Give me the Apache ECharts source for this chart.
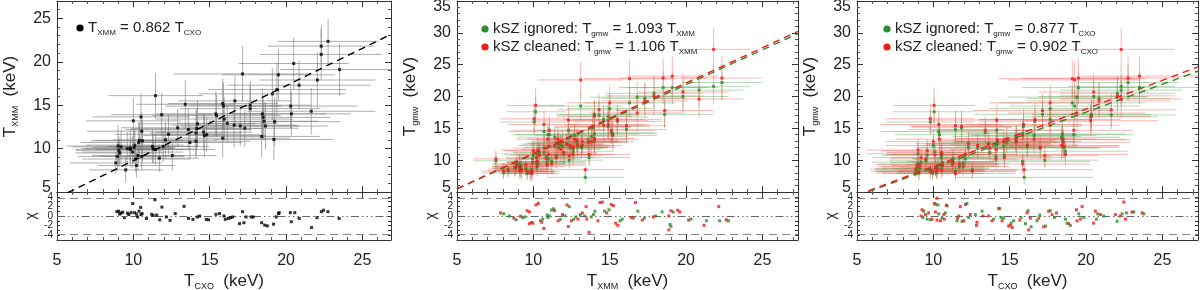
<!DOCTYPE html>
<html><head><meta charset="utf-8">
<script src="https://cdn.jsdelivr.net/npm/echarts@6/dist/echarts.min.js"></script>
<style>html,body{margin:0;padding:0;background:#fff}#c{width:1200px;height:290px}</style>
</head><body><div id="c"></div>
<script>
// ---------------- DATA (per cluster) ----------------
const tCXO = [8.85,8.95,9.0,9.05,9.2,9.5,9.6,9.8,9.8,9.95, 10.0,10.05,10.15,10.2,10.3,10.35,10.4,10.5,10.55,10.55,
  10.6,11.25,11.3,11.45,11.45,11.7,11.85,11.95,12.3,12.55, 12.9,13.4,13.6,13.7,14.1,14.1,14.15,14.2,14.6,14.65,
  14.8,15.4,15.45,15.85,15.85,15.9,15.95,16.15,16.6,16.65, 17.0,17.15,17.3,17.65,17.65,18.4,18.45,18.5,18.55,18.65,
  19.1,19.2,19.25,19.4,19.5,20.3,20.35,20.5,20.85,21.65, 22.05,22.3,22.3,22.75,23.5, 9.1,10.1,12.1];
const eCXO = [3.0,2.6,3.4,2.8,3.2,2.4,3.0,3.6,2.9,3.3, 3.1,2.7,3.5,2.5,3.0,3.8,2.9,3.2,3.6,2.8,
  3.4,3.0,2.7,3.9,3.1,2.6,3.3,3.0,3.5,2.9, 3.7,3.2,4.1,3.4,3.0,3.6,4.3,3.8,3.2,4.0,
  3.5,3.9,4.2,3.6,4.4,3.8,4.5,3.3,4.1,3.7, 3.9,4.5,3.5,4.0,4.6,3.8,4.2,4.4,3.6,4.1,
  4.8,3.9,4.3,4.5,3.7,4.4,3.9,3.6,4.7,4.2, 3.8,3.5,4.0,3.3,3.9, 2.9,3.2,3.4];
const tXMM = [8.35,9.1,10.3,9.8,10.2,7.55,10.0,9.9,10.05,9.6, 13.2,10.15,8.8,8.05,9.2,10.7,10.95,13.65,12.0,9.1,
  10.9,10.25,9.95,9.9,16.1,8.9,13.9,10.25,11.65,9.2, 12.4,15.1,12.2,10.7,11.8,10.85,12.3,12.85,11.9,11.5,
  11.6,14.0,13.8,15.2,11.2,14.9,13.4,12.9,12.7,15.5, 12.6,18.6,12.35,15.0,14.6,11.4,14.0,13.6,13.15,12.6,
  16.3,11.05,13.1,16.8,18.5,14.9,14.0,19.8,17.3,14.3, 17.9,21.8,20.85,22.35,19.1, 9.5,10.4,11.0];
const eXMM = [1.3,1.7,2.4,1.6,2.0,1.5,1.9,1.4,2.2,1.8, 2.6,1.9,1.5,1.4,1.8,2.3,2.1,2.7,2.2,1.6,
  2.4,1.9,1.7,1.8,2.6,1.6,2.5,1.8,2.3,1.7, 2.2,2.8,2.4,2.0,2.6,1.9,2.3,2.7,2.1,2.5,
  2.0,2.6,2.4,2.9,2.2,2.7,2.5,2.1,2.6,2.9, 2.3,3.2,2.2,2.8,2.6,2.4,2.9,2.5,2.2,2.7,
  3.0,2.4,2.8,3.1,2.9,2.6,2.5,3.0,2.8,2.7, 3.2,2.4,2.9,2.6,3.0, 1.6,1.9,2.1];
const tGmwIgnored = [8.3,9.4,11.0,8.2,9.7,9.9,10.8,8.5,16.0,7.9, 12.3,17.6,8.7,8.0,9.1,14.5,14.0,10.4,10.9,8.8,
  9.6,9.3,10.2,8.2,14.8,9.0,15.1,9.5,12.0,8.5, 11.9,14.3,12.6,11.2,12.4,10.6,14.7,12.8,12.2,10.8,
  12.7,12.9,13.7,14.2,9.8,15.3,7.3,12.1,13.9,16.1, 11.9,17.2,10.0,18.1,16.4,13.6,14.1,13.2,12.0,11.4,
  19.0,14.0,18.5,19.9,21.4,16.8,17.2,20.0,19.7,17.1, 20.5,21.6,21.0,22.2,21.4, 8.7,11.3,10.2];
const eGmwIgnored = [1.0,1.3,1.6,1.1,1.4,1.2,1.5,1.1,2.0,1.0, 1.5,2.3,1.2,1.0,1.3,1.9,1.8,1.4,1.5,1.1,
  1.3,1.2,1.4,1.0,2.0,1.2,2.1,1.3,1.6,1.1, 1.5,1.8,1.6,1.4,1.7,1.3,1.9,1.6,1.5,1.4,
  1.6,1.7,1.8,1.9,1.3,2.0,1.1,1.6,1.8,2.1, 1.5,2.2,1.4,2.3,2.1,1.8,1.9,1.7,1.6,1.5,
  2.4,1.9,2.3,2.4,2.6,2.1,2.2,2.5,2.4,2.2, 2.6,2.7,2.5,2.8,2.6, 1.1,1.4,1.3];
const tGmwCleaned = [8.6,9.0,11.6,8.0,10.4,10.2,11.5,8.2,16.5,8.3, 12.9,18.6,8.9,8.3,8.6,15.6,13.3,10.9,11.2,8.4,
  9.2,9.8,9.6,7.9,15.4,9.4,15.3,9.0,12.6,8.3, 12.3,14.7,12.5,11.9,11.7,10.2,16.3,13.1,12.9,10.4,
  13.3,13.4,12.9,13.9,9.4,15.6,8.5,12.4,13.3,16.4, 12.0,17.8,10.7,19.0,15.5,12.3,13.3,12.8,12.2,10.9,
  22.8,14.7,22.6,17.4,22.9,16.2,16.9,20.7,19.3,17.9, 20.1,27.4,19.6,22.9,23.2, 9.3,10.8,10.9];
const eGmwCleaned = [1.2,1.5,1.9,1.3,1.7,1.4,1.8,1.3,2.4,1.2, 1.8,2.8,1.4,1.2,1.5,2.3,2.1,1.7,1.8,1.3,
  1.6,1.4,1.7,1.2,2.4,1.4,2.5,1.5,1.9,1.3, 1.8,2.2,1.9,1.7,2.0,1.6,2.3,1.9,1.8,1.7,
  1.9,2.0,2.2,2.3,1.6,2.4,1.4,1.9,2.2,2.5, 1.8,2.6,1.7,2.8,2.5,2.2,2.3,2.0,1.9,1.8,
  2.9,2.3,2.8,2.9,3.1,2.5,2.6,3.0,2.9,2.6, 3.1,3.3,3.0,3.4,3.1, 1.3,1.7,1.6];

// fit slopes (from the legends)
const slopeXMMvsCXO = 0.862;
const slopeGmwXMMIgnored = 1.093, slopeGmwXMMCleaned = 1.106;
const slopeGmwCXOIgnored = 0.877, slopeGmwCXOCleaned = 0.902;

// residuals chi, [T, chi]
const res1 = [[8.92,0.9],[9.03,1.0],[9.1,0.4],[9.2,0.6],[9.3,0.8],[9.41,-0.35],[9.61,0.6],[9.7,0.3],[9.85,0.7],[9.96,2.6],
  [10.08,0.7],[10.2,0.4],[10.28,-0.2],[10.37,1.0],[10.48,1.8],[10.5,0.3],[10.57,0.5],[10.86,-0.5],[11.2,0.35],[11.3,0.1],
  [11.41,3.4],[11.53,0.2],[11.73,-0.8],[11.87,1.85],[12.16,-0.2],[12.4,-0.9],[12.74,0.5],[13.32,2.0],[13.61,-0.5],[13.9,-0.7],
  [14.19,-0.2],[14.34,0.0],[14.77,-0.7],[14.92,-0.8],[15.41,0.35],[15.64,0.5],[15.93,0.0],[16.02,-0.7],[16.22,-0.5],[16.37,-0.35],
  [16.51,-0.2],[16.95,-1.6],[17.15,0.9],[17.24,-1.4],[17.38,-0.2],[17.73,-0.2],[17.85,-0.2],[18.4,-1.4],[18.6,-1.9],[18.77,-2.05],
  [19.18,-1.7],[19.35,-0.2],[19.5,0.5],[19.55,0.7],[20.28,0.7],[20.34,-1.2],[20.57,0.7],[20.86,-0.5],[21.67,-2.4],[22.02,-0.35],
  [22.31,0.9],[22.45,1.2],[22.74,0.9],[23.47,-0.5]];
const res2Ignored = [[8.05,0.45],[8.43,0.0],[8.87,-0.8],[9.3,-0.3],[9.45,-0.2],[9.88,-1.35],[10.46,-1.0],[10.61,-0.65],[10.9,0.2],[10.95,-0.3],
  [11.04,0.0],[11.19,1.25],[11.33,1.5],[11.77,-0.7],[12.06,0.05],[12.35,1.95],[12.64,-0.7],[12.78,-0.2],[13.07,0.3],[13.36,0.0],
  [13.79,-0.2],[13.94,0.3],[14.03,1.0],[14.66,1.0],[14.95,1.3],[15.68,-1.0],[15.82,-0.65],[16.55,-0.45],[16.84,1.0],[17.27,-0.45],
  [18.0,0.0],[18.43,0.85],[19.16,0.85],[18.95,-1.75],[19.01,-2.15],[20.32,-0.65],[21.33,-1.0],[22.2,-1.0],[22.78,-1.0]];
const res2Cleaned = [[7.85,0.65],[8.72,-0.45],[9.16,-0.05],[9.59,1.1],[9.74,-1.6],[9.97,-1.5],[9.74,0.85],[10.17,2.3],[10.32,2.6],[10.55,-1.3],
  [10.69,-2.6],[11.39,1.1],[11.62,-1.0],[11.91,0.3],[12.2,2.3],[12.29,-2.2],[12.49,-1.0],[12.92,-0.65],[13.21,0.65],[13.45,1.95],
  [13.5,-0.65],[13.65,-3.4],[14.23,-1.0],[14.37,2.8],[14.52,2.9],[14.81,0.65],[15.1,2.4],[15.24,2.15],[15.39,-1.5],[15.53,-1.95],
  [16.4,-0.3],[16.69,2.8],[17.13,-0.85],[17.85,-0.2],[18.87,0.0],[19.01,1.1],[19.45,1.2],[19.59,0.85],[18.87,-2.9],[20.17,-0.85],
  [21.18,-1.95],[22.14,1.95],[22.63,-0.8]];
const res3Ignored = [[9.37,1.0],[9.32,-0.3],[9.59,-0.65],[9.8,-0.8],[10.15,2.45],[10.3,2.3],[10.35,0.45],[10.57,-0.45],[10.79,0.65],[10.9,2.1],
  [11.55,-1.0],[11.66,0.0],[11.88,-1.1],[12.2,2.6],[12.31,-0.3],[12.75,0.3],[13.19,1.0],[13.95,-0.65],[14.34,1.5],[14.43,-0.3],
  [14.6,-0.45],[15.09,-1.5],[15.26,-1.0],[15.74,-0.3],[16.03,-1.6],[16.2,1.1],[16.4,-2.25],[16.79,-1.0],[16.97,0.2],[17.34,-2.1],
  [17.66,1.1],[17.93,-0.3],[18.65,-0.65],[18.76,-1.5],[18.97,-1.95],[19.52,0.45],[19.85,-0.3],[20.68,-0.65],[20.76,0.45],[21.16,0.0],
  [22.03,-1.1],[22.36,0.45],[22.64,0.65],[23.12,0.85],[23.78,0.45]];
const res3Cleaned = [[9.19,0.0],[9.26,1.3],[9.48,0.3],[9.69,0.65],[9.91,-0.65],[10.07,2.6],[10.24,3.7],[10.13,0.85],[10.24,-0.85],[10.46,-1.0],
  [10.68,0.3],[10.85,2.25],[10.72,-0.65],[11.59,-0.45],[11.77,1.95],[11.99,-1.0],[12.1,2.4],[12.42,0.3],[12.86,-1.3],[12.82,-1.95],
  [13.25,0.0],[13.62,0.0],[13.84,-1.0],[14.28,1.6],[14.5,-1.0],[14.93,-2.1],[15.04,-1.95],[15.17,-2.4],[15.66,-0.85],[16.14,0.65],
  [16.24,-2.9],[16.35,-0.45],[16.9,-0.45],[17.23,-2.25],[17.55,1.0],[17.77,0.3],[18.06,0.65],[18.86,-1.6],[19.37,1.3],[19.41,-1.0],
  [19.63,-0.65],[19.74,1.95],[20.5,-1.5],[20.61,1.0],[20.94,0.3],[21.92,0.3],[22.25,0.0],[22.47,2.9],[22.58,-0.65],[23.01,0.8],[23.67,0.65]];
const chiBand = 3.7;
const xTickStep = 5, yTickStep = 5;

// ---------------- STYLE / LAYOUT ----------------
const F = '"Liberation Sans", Arial, sans-serif';
const INK = '#222';
const GREEN = '#2c8c2c', RED = '#f21c1c';
const GREEN_BAR = 'rgba(70,160,70,0.4)', RED_BAR = 'rgba(255,70,70,0.4)';
const panels = [
  {left: 57, width: 334, xmax: 26.87, ymax: 27, xsub: 'CXO', ysub: 'XMM'},
  {left: 457, width: 341, xmax: 27.33, ymax: 35, xsub: 'XMM', ysub: 'gmw'},
  {left: 857, width: 341, xmax: 27.33, ymax: 35, xsub: 'CXO', ysub: 'gmw'}
];
const MAIN_TOP = 1, MAIN_H = 191, RES_TOP = 192, RES_H = 48;

const titleRich = {
  t: {fontSize: 17, fontFamily: F, color: INK, lineHeight: 20},
  s: {fontSize: 9, fontFamily: F, color: INK, lineHeight: 9, verticalAlign: 'bottom'}
};
const legRich = {
  t: {fontSize: 15, fontFamily: F, color: INK, lineHeight: 18},
  s: {fontSize: 8, fontFamily: F, color: INK, lineHeight: 8, verticalAlign: 'bottom'}
};
const tickRich = {
  lo: {fontSize: 16, fontFamily: F, color: INK, padding: [0, 0, 8, 0]},
  hi: {fontSize: 16, fontFamily: F, color: INK, padding: [12, 0, 0, 0]}
};
const axisColor = '#333';

function xAxisDef(grid, pos, xmax, labels, name) {
  return {
    type: 'value', gridIndex: grid, position: pos, min: 5, max: xmax, interval: xTickStep,
    axisLine: {show: true, onZero: false, lineStyle: {color: axisColor, width: 1}},
    axisTick: {show: true, inside: true, length: 6, lineStyle: {color: axisColor}},
    minorTick: {show: true, splitNumber: 5, length: 3, lineStyle: {color: '#555'}},
    splitLine: {show: false}, minorSplitLine: {show: false},
    axisLabel: {show: labels, showMaxLabel: false, margin: 13, fontSize: 16, fontFamily: F, color: INK},
    name: name || '', nameLocation: 'middle', nameGap: 31,
    nameTextStyle: {rich: titleRich}
  };
}
function yMainDef(grid, pos, ymax, labels, name) {
  return {
    type: 'value', gridIndex: grid, position: pos, min: 5, max: ymax, interval: yTickStep,
    axisLine: {show: true, onZero: false, lineStyle: {color: axisColor, width: 1}},
    axisTick: {show: true, inside: true, length: 6, lineStyle: {color: axisColor}},
    minorTick: {show: true, splitNumber: 5, length: 3, lineStyle: {color: '#555'}},
    splitLine: {show: false}, minorSplitLine: {show: false},
    axisLabel: {show: labels, showMaxLabel: ymax % yTickStep === 0, margin: 6, fontSize: 16, fontFamily: F, color: INK,
      formatter: v => v === 5 ? '{lo|5}' : (v === ymax ? '{hi|' + v + '}' : String(v)), rich: tickRich},
    name: name || '', nameLocation: 'middle', nameGap: 37, nameRotate: 90,
    nameTextStyle: {rich: titleRich}
  };
}
function yResDef(grid, pos, labels) {
  return {
    type: 'value', gridIndex: grid, position: pos, min: -5, max: 5, interval: 1,
    axisLine: {show: true, onZero: false, lineStyle: {color: axisColor, width: 1}},
    axisTick: {show: true, inside: true, length: 3, lineStyle: {color: axisColor}},
    splitLine: {show: false},
    axisLabel: {show: labels, margin: 4, fontSize: 10, fontFamily: F, color: INK,
      formatter: v => (Math.abs(v) < 5 && v % 2 === 0) ? String(v) : ''},
    name: labels ? 'χ' : '', nameLocation: 'middle', nameGap: 19, nameRotate: 90,
    nameTextStyle: {fontSize: 14, fontFamily: F, color: INK}
  };
}
function sub(s) { return '{t|T}{s|' + s + '}{t|  (keV)}'; }

function errBars(xi, yi, data, color) {
  return {
    type: 'custom', xAxisIndex: xi, yAxisIndex: yi, data: data, clip: true, silent: true, z: 1,
    encode: {x: 0, y: 1},
    renderItem: function (params, api) {
      const x = api.value(0), y = api.value(1), ex = api.value(2), ey = api.value(3);
      const a = api.coord([x - ex, y]), b = api.coord([x + ex, y]);
      const c = api.coord([x, y - ey]), d = api.coord([x, y + ey]);
      return {type: 'group', children: [
        {type: 'line', shape: {x1: a[0], y1: a[1], x2: b[0], y2: b[1]}, style: {stroke: color, lineWidth: 1}},
        {type: 'line', shape: {x1: c[0], y1: c[1], x2: d[0], y2: d[1]}, style: {stroke: color, lineWidth: 1}}
      ]};
    }
  };
}
function pts(xi, yi, data, color, size) {
  return {type: 'scatter', xAxisIndex: xi, yAxisIndex: yi, data: data, symbol: 'rect', symbolSize: size || 3,
    itemStyle: {color: color}, silent: true, z: 5};
}
function fitLine(xi, yi, slope, xmax, color) {
  return {type: 'line', xAxisIndex: xi, yAxisIndex: yi, data: [[5, 5 * slope], [xmax, xmax * slope]],
    symbol: 'none', silent: true, z: 4, clip: true,
    lineStyle: {color: color, width: 1.4, type: [7, 5]}};
}
function bandLines() {
  return {silent: true, symbol: ['none', 'none'], label: {show: false}, animation: false,
    emphasis: {disabled: true},
    data: [
      {yAxis: 0, lineStyle: {color: '#666', width: 1, type: [8, 3, 1.5, 3, 1.5, 3, 1.5, 3]}},
      {yAxis: chiBand, lineStyle: {color: '#888', width: 1, type: [8, 5]}},
      {yAxis: -chiBand, lineStyle: {color: '#888', width: 1, type: [8, 5]}}
    ]};
}

const grids = [], xAxes = [], yAxes = [], series = [];
panels.forEach((p, i) => {
  grids.push({left: p.left, top: MAIN_TOP, width: p.width, height: MAIN_H, containLabel: false, outerBoundsMode: 'none'});
  grids.push({left: p.left, top: RES_TOP, width: p.width, height: RES_H, containLabel: false, outerBoundsMode: 'none'});
  const gm = 2 * i, gr = 2 * i + 1;
  xAxes.push(xAxisDef(gm, 'bottom', p.xmax, false));
  xAxes.push(xAxisDef(gm, 'top', p.xmax, false));
  xAxes.push(xAxisDef(gr, 'bottom', p.xmax, true, sub(p.xsub)));
  xAxes.push(xAxisDef(gr, 'top', p.xmax, false));
  yAxes.push(yMainDef(gm, 'left', p.ymax, true, sub(p.ysub)));
  yAxes.push(yMainDef(gm, 'right', p.ymax, false));
  yAxes.push(yResDef(gr, 'left', true));
  yAxes.push(yResDef(gr, 'right', false));
});

const N = tCXO.length;
const idx = Array.from({length: N}, (_, k) => k);
// Panel 1: T_XMM vs T_CXO
series.push(errBars(0, 0, idx.map(k => [tCXO[k], tXMM[k], eCXO[k], eXMM[k]]), 'rgba(120,120,120,0.6)'));
series.push(fitLine(0, 0, slopeXMMvsCXO, panels[0].xmax, '#000'));
series.push(pts(0, 0, idx.map(k => [tCXO[k], tXMM[k]]), '#000'));
series.push(Object.assign(pts(2, 2, res1, '#000'), {markLine: bandLines()}));
// Panel 2: T_gmw vs T_XMM
series.push(errBars(4, 4, idx.map(k => [tXMM[k], tGmwIgnored[k], eXMM[k], eGmwIgnored[k]]), GREEN_BAR));
series.push(errBars(4, 4, idx.map(k => [tXMM[k], tGmwCleaned[k], eXMM[k], eGmwCleaned[k]]), RED_BAR));
series.push(fitLine(4, 4, slopeGmwXMMIgnored, panels[1].xmax, GREEN));
series.push(fitLine(4, 4, slopeGmwXMMCleaned, panels[1].xmax, RED));
series.push(pts(4, 4, idx.map(k => [tXMM[k], tGmwIgnored[k]]), GREEN));
series.push(pts(4, 4, idx.map(k => [tXMM[k], tGmwCleaned[k]]), RED));
series.push(Object.assign(pts(6, 6, res2Ignored, GREEN), {markLine: bandLines()}));
series.push(pts(6, 6, res2Cleaned, RED));
// Panel 3: T_gmw vs T_CXO
series.push(errBars(8, 8, idx.map(k => [tCXO[k], tGmwIgnored[k], eCXO[k], eGmwIgnored[k]]), GREEN_BAR));
series.push(errBars(8, 8, idx.map(k => [tCXO[k], tGmwCleaned[k], eCXO[k], eGmwCleaned[k]]), RED_BAR));
series.push(fitLine(8, 8, slopeGmwCXOIgnored, panels[2].xmax, GREEN));
series.push(fitLine(8, 8, slopeGmwCXOCleaned, panels[2].xmax, RED));
series.push(pts(8, 8, idx.map(k => [tCXO[k], tGmwIgnored[k]]), GREEN));
series.push(pts(8, 8, idx.map(k => [tCXO[k], tGmwCleaned[k]]), RED));
series.push(Object.assign(pts(10, 10, res3Ignored, GREEN), {markLine: bandLines()}));
series.push(pts(10, 10, res3Cleaned, RED));

// legends (text)
function legItem(x, y, color, txt) {
  return [
    {type: 'circle', shape: {cx: x, cy: y, r: 3.6}, style: {fill: color}, silent: true},
    {type: 'text', x: x + 8, y: y, silent: true,
      style: {text: txt, rich: legRich, verticalAlign: 'middle', align: 'left', fill: INK, font: '15px ' + F}}
  ];
}
const f3 = v => v.toFixed(3);
const graphic = [].concat(
  legItem(80, 28, '#000', '{t|T}{s|XMM}{t| = ' + f3(slopeXMMvsCXO) + ' T}{s|CXO}'),
  legItem(485, 29, GREEN, '{t|kSZ ignored: T}{s|gmw}{t| = ' + f3(slopeGmwXMMIgnored) + ' T}{s|XMM}'),
  legItem(485, 47, RED, '{t|kSZ cleaned: T}{s|gmw}{t| = ' + f3(slopeGmwXMMCleaned) + ' T}{s|XMM}'),
  legItem(887, 29, GREEN, '{t|kSZ ignored: T}{s|gmw}{t| = ' + f3(slopeGmwCXOIgnored) + ' T}{s|CXO}'),
  legItem(887, 47, RED, '{t|kSZ cleaned: T}{s|gmw}{t| = ' + f3(slopeGmwCXOCleaned) + ' T}{s|CXO}')
);

const chart = echarts.init(document.getElementById('c'), null, {renderer: 'canvas'});
chart.setOption({
  animation: false,
  backgroundColor: '#fff',
  textStyle: {fontFamily: F},
  grid: grids, xAxis: xAxes, yAxis: yAxes, series: series, graphic: graphic
});
</script></body></html>
